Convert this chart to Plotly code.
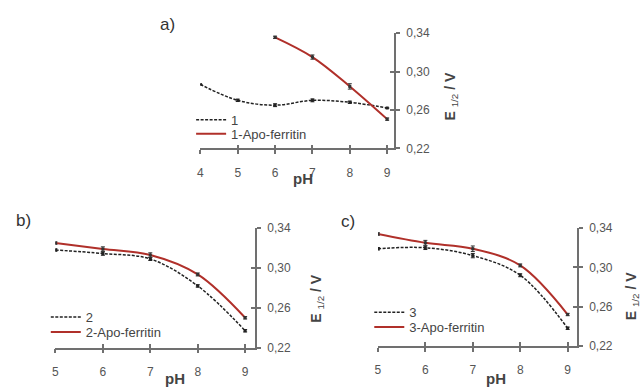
import plotly.graph_objects as go

W, H = 641, 392

# ---- data ----
ph_a1 = [4, 5, 6, 7, 8, 9]
e_a1 = [0.2866, 0.270, 0.265, 0.270, 0.268, 0.262]
err_a1 = [0.0, 0.0012, 0.0015, 0.0015, 0.0012, 0.0]
ph_a2 = [6, 7, 8, 9]
e_a2 = [0.3355, 0.315, 0.2845, 0.2505]
err_a2 = [0.0012, 0.0022, 0.0028, 0.0012]

ph_b = [5, 6, 7, 8, 9]
e_b1 = [0.318, 0.3145, 0.309, 0.282, 0.237]
err_b1 = [0.0012, 0.0018, 0.0015, 0.0012, 0.0012]
e_b2 = [0.325, 0.319, 0.313, 0.2935, 0.250]
err_b2 = [0.0012, 0.0022, 0.0022, 0.0015, 0.0012]

ph_c = [5, 6, 7, 8, 9]
e_c1 = [0.319, 0.320, 0.312, 0.292, 0.238]
err_c1 = [0.0012, 0.0018, 0.0022, 0.0015, 0.0012]
e_c2 = [0.334, 0.325, 0.319, 0.302, 0.252]
err_c2 = [0.0012, 0.0025, 0.0028, 0.0015, 0.0012]

names_a = ["1", "1-Apo-ferritin"]
names_b = ["2", "2-Apo-ferritin"]
names_c = ["3", "3-Apo-ferritin"]
y_ticks = [0.22, 0.26, 0.30, 0.34]

# ---- style ----
RED = "#b0302a"
BLACK = "#222222"
AX = "#707070"
TXT = "#555555"
FONT = "Liberation Sans, Arial, sans-serif"

def px(x):
    return x / W

def py(y):
    return 1 - y / H

fig = go.Figure()

def add_series(xs, ys, er, name, xa, ya, legend, color, width, dash, mcolor):
    # line (shown in legend)
    fig.add_trace(go.Scatter(
        x=xs, y=ys, name=name, xaxis=xa, yaxis=ya, legend=legend, mode="lines",
        line=dict(color=color, width=width, dash=dash, shape="spline", smoothing=1)))
    # point markers with error bars
    fig.add_trace(go.Scatter(
        x=xs, y=ys, xaxis=xa, yaxis=ya, mode="markers", showlegend=False,
        marker=dict(symbol="square", size=3, color=mcolor),
        error_y=dict(type="data", array=er, color=mcolor, thickness=1, width=2)))

DASH = "3px,1.5px"
add_series(ph_a1, e_a1, err_a1, names_a[0], "x", "y", "legend", BLACK, 1.5, DASH, BLACK)
add_series(ph_a2, e_a2, err_a2, names_a[1], "x", "y", "legend2", RED, 2, "solid", "#333333")
add_series(ph_b, e_b1, err_b1, names_b[0], "x2", "y2", "legend3", BLACK, 1.5, DASH, BLACK)
add_series(ph_b, e_b2, err_b2, names_b[1], "x2", "y2", "legend4", RED, 2, "solid", "#333333")
add_series(ph_c, e_c1, err_c1, names_c[0], "x3", "y3", "legend5", BLACK, 1.5, DASH, BLACK)
add_series(ph_c, e_c2, err_c2, names_c[1], "x3", "y3", "legend6", RED, 2, "solid", "#333333")

panels = [
    # (xdomain px, ydomain px (bottom, top), xrange, xticks)
    ((198.3, 393.0), (146.7, 27.0), [4, 9.187], [4, 5, 6, 7, 8, 9]),
    ((52.7, 253.3), (353.3, 229.3), [5, 9.21], [5, 6, 7, 8, 9]),
    ((376.7, 576.7), (351.5, 229.3), [5, 9.197], [5, 6, 7, 8, 9]),
]

layout = dict(
    width=W, height=H, margin=dict(l=0, r=0, t=0, b=0),
    paper_bgcolor="white", plot_bgcolor="rgba(0,0,0,0)",
    separators=", ", showlegend=True,
    font=dict(family=FONT, color=TXT, size=12),
)

for i, (xd, yd, xr, xt) in enumerate(panels):
    n = i + 1
    sx = "" if n == 1 else str(n)
    ox = str(n + 3)
    xdom = [px(xd[0]), px(xd[1])]
    ydom = [py(yd[0]), py(yd[1])]
    common_x = dict(range=xr, tickmode="array", tickvals=xt, showline=True, linecolor=AX,
                    linewidth=1.5, tickcolor=AX, tickwidth=1.5, ticklen=4, showgrid=False,
                    zeroline=False, fixedrange=True)
    common_y = dict(range=[0.22, 0.34], tickmode="array", tickvals=y_ticks, showline=True,
                    linecolor=AX, linewidth=1.5, tickcolor=AX, tickwidth=1.5, ticklen=4,
                    showgrid=False, zeroline=False, side="right", fixedrange=True)
    layout["xaxis" + sx] = dict(common_x, domain=xdom, anchor="y" + sx, ticks="outside",
                                tickfont=dict(size=12, color=TXT), ticklabelstandoff=8)
    layout["yaxis" + sx] = dict(common_y, domain=ydom, anchor="x" + sx, ticks="outside",
                                tickformat=".2f", tickfont=dict(size=12, color=TXT),
                                ticklabelstandoff=4)
    layout["xaxis" + ox] = dict(common_x, overlaying="x" + sx, anchor="y" + sx, ticks="inside",
                                showticklabels=False)
    layout["yaxis" + ox] = dict(common_y, overlaying="y" + sx, anchor="x" + sx, ticks="inside",
                                showticklabels=False)

# invisible helper traces so overlay axes render
for i in range(3):
    n = i + 4
    fig.add_trace(go.Scatter(x=[None], y=[None], xaxis="x" + str(n), yaxis="y" + str(n),
                             showlegend=False, hoverinfo="skip"))

legend_style = dict(bgcolor="rgba(0,0,0,0)", font=dict(size=13, color="#444444"),
                    xanchor="left", yanchor="middle", itemwidth=30, borderwidth=0)
# legend anchor positions (left edge, entry centre) in pixels
leg_pos = {"legend": (189, 117), "legend2": (189, 131.5),
           "legend3": (43, 321.5), "legend4": (43, 337),
           "legend5": (368, 316.5), "legend6": (368, 332)}
for k, (lx, ly) in leg_pos.items():
    layout[k] = dict(legend_style, x=px(lx), y=py(ly))

ann = []
def label(text, x, y, size, bold=False, color="#333333", angle=0):
    ann.append(dict(text=("<b>%s</b>" % text) if bold else text, x=px(x), y=py(y),
                    xref="paper", yref="paper", showarrow=False, textangle=angle,
                    font=dict(size=size, color=color, family=FONT),
                    xanchor="center", yanchor="middle"))

label("a)", 165, 18, 17)
label("b)", 21, 221, 17)
label("c)", 347, 222, 17)
label("pH", 301, 178, 15, bold=True, color="#444444")
label("pH", 173, 385, 15, bold=True, color="#444444")
label("pH", 495, 385, 15, bold=True, color="#444444")
ytitle = "<b>E</b> <sub>1/2</sub><b> / V</b>"
for (x, y) in [(450, 92), (316, 302), (632, 300)]:
    ann.append(dict(text=ytitle, x=px(x), y=py(y), xref="paper", yref="paper",
                    showarrow=False, textangle=-90,
                    font=dict(size=14, color="#444444", family=FONT),
                    xanchor="center", yanchor="middle"))
layout["annotations"] = ann

fig.update_layout(**layout)
fig.write_html("out.html", config={"displayModeBar": False},
               post_script="document.body.style.margin='0px';document.body.style.overflow='hidden';")
